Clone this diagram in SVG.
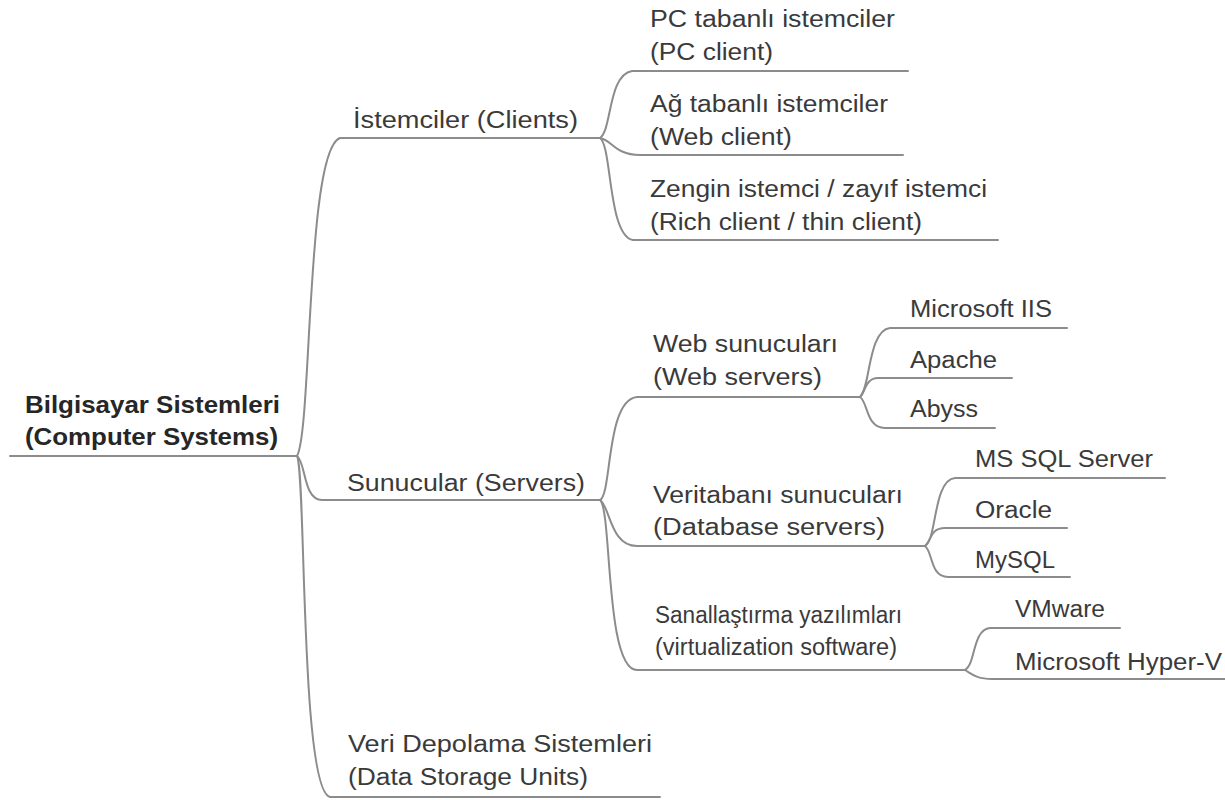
<svg xmlns="http://www.w3.org/2000/svg" width="1225" height="800" viewBox="0 0 1225 800">
<style>
.c{fill:none;stroke:#8c8c8c;stroke-width:2;stroke-linecap:round}
.t{font-family:"Liberation Sans",Arial,sans-serif;font-size:23px;fill:#3a3a3a}
.r{font-family:"Liberation Sans",Arial,sans-serif;font-size:24px;font-weight:bold;fill:#262626}
</style>
<rect width="1225" height="800" fill="#ffffff"/>
<g id="connectors">
<path class="c" d="M10,456 H297"/>
<path class="c" d="M297,456 C312,430 306,150 340,138 H600"/>
<path class="c" d="M297,456 C306,462 303,500 322,500 H600"/>
<path class="c" d="M297,456 C306,470 300,790 330,797 H660"/>
<path class="c" d="M600,138 C612,130 608,75 632,71 H908"/>
<path class="c" d="M600,138 C612,140 615,155 640,155 H903"/>
<path class="c" d="M600,138 C612,146 608,236 633,240 H998"/>
<path class="c" d="M600,500 C612,494 606,400 637,397 H860"/>
<path class="c" d="M600,500 C610,506 610,546 637,546 H925"/>
<path class="c" d="M600,500 C612,510 605,670 637,670 H965"/>
<path class="c" d="M860,397 C870,390 868,330 890,328 H1067"/>
<path class="c" d="M860,397 C866,390 866,378 878,378 H1012"/>
<path class="c" d="M860,397 C868,402 866,428 885,428 H995"/>
<path class="c" d="M925,546 C937,540 933,480 955,478 H1165"/>
<path class="c" d="M925,546 C932,540 930,528 945,528 H1067"/>
<path class="c" d="M925,546 C933,552 930,577 948,577 H1070"/>
<path class="c" d="M965,670 C976,664 972,630 990,628 H1120"/>
<path class="c" d="M965,670 C972,674 976,679 992,679 H1225"/>
</g>
<g id="root">
<text class="r" x="25" y="413" textLength="255" lengthAdjust="spacingAndGlyphs">Bilgisayar Sistemleri</text>
<text class="r" x="25" y="445" textLength="253" lengthAdjust="spacingAndGlyphs">(Computer Systems)</text>
</g>
<g id="clients">
<text class="t" x="353" y="128" textLength="225" lengthAdjust="spacingAndGlyphs">İstemciler (Clients)</text>
</g>
<g id="pc-client">
<text class="t" x="650" y="27" textLength="245" lengthAdjust="spacingAndGlyphs">PC tabanlı istemciler</text>
<text class="t" x="650" y="60" textLength="123" lengthAdjust="spacingAndGlyphs">(PC client)</text>
</g>
<g id="web-client">
<text class="t" x="650" y="112" textLength="238" lengthAdjust="spacingAndGlyphs">Ağ tabanlı istemciler</text>
<text class="t" x="650" y="145" textLength="142" lengthAdjust="spacingAndGlyphs">(Web client)</text>
</g>
<g id="rich-client">
<text class="t" x="650" y="197" textLength="337" lengthAdjust="spacingAndGlyphs">Zengin istemci / zayıf istemci</text>
<text class="t" x="650" y="230" textLength="272" lengthAdjust="spacingAndGlyphs">(Rich client / thin client)</text>
</g>
<g id="servers">
<text class="t" x="347" y="491" textLength="238" lengthAdjust="spacingAndGlyphs">Sunucular (Servers)</text>
</g>
<g id="web-servers">
<text class="t" x="653" y="352" textLength="185" lengthAdjust="spacingAndGlyphs">Web sunucuları</text>
<text class="t" x="653" y="385" textLength="169" lengthAdjust="spacingAndGlyphs">(Web servers)</text>
</g>
<g id="iis"><text class="t" x="910" y="317" textLength="142" lengthAdjust="spacingAndGlyphs">Microsoft IIS</text></g>
<g id="apache"><text class="t" x="910" y="368" textLength="87" lengthAdjust="spacingAndGlyphs">Apache</text></g>
<g id="abyss"><text class="t" x="910" y="417" textLength="68" lengthAdjust="spacingAndGlyphs">Abyss</text></g>
<g id="db-servers">
<text class="t" x="653" y="503" textLength="250" lengthAdjust="spacingAndGlyphs">Veritabanı sunucuları</text>
<text class="t" x="653" y="535" textLength="232" lengthAdjust="spacingAndGlyphs">(Database servers)</text>
</g>
<g id="mssql"><text class="t" x="975" y="467" textLength="178" lengthAdjust="spacingAndGlyphs">MS SQL Server</text></g>
<g id="oracle"><text class="t" x="975" y="518" textLength="77" lengthAdjust="spacingAndGlyphs">Oracle</text></g>
<g id="mysql"><text class="t" x="975" y="568" textLength="80" lengthAdjust="spacingAndGlyphs">MySQL</text></g>
<g id="virtualization">
<text class="t" x="655" y="623" textLength="247" lengthAdjust="spacingAndGlyphs">Sanallaştırma yazılımları</text>
<text class="t" x="655" y="655" textLength="242" lengthAdjust="spacingAndGlyphs">(virtualization software)</text>
</g>
<g id="vmware"><text class="t" x="1015" y="617" textLength="90" lengthAdjust="spacingAndGlyphs">VMware</text></g>
<g id="hyperv"><text class="t" x="1015" y="670" textLength="207" lengthAdjust="spacingAndGlyphs">Microsoft Hyper-V</text></g>
<g id="storage">
<text class="t" x="348" y="752" textLength="304" lengthAdjust="spacingAndGlyphs">Veri Depolama Sistemleri</text>
<text class="t" x="348" y="785" textLength="240" lengthAdjust="spacingAndGlyphs">(Data Storage Units)</text>
</g>
</svg>
